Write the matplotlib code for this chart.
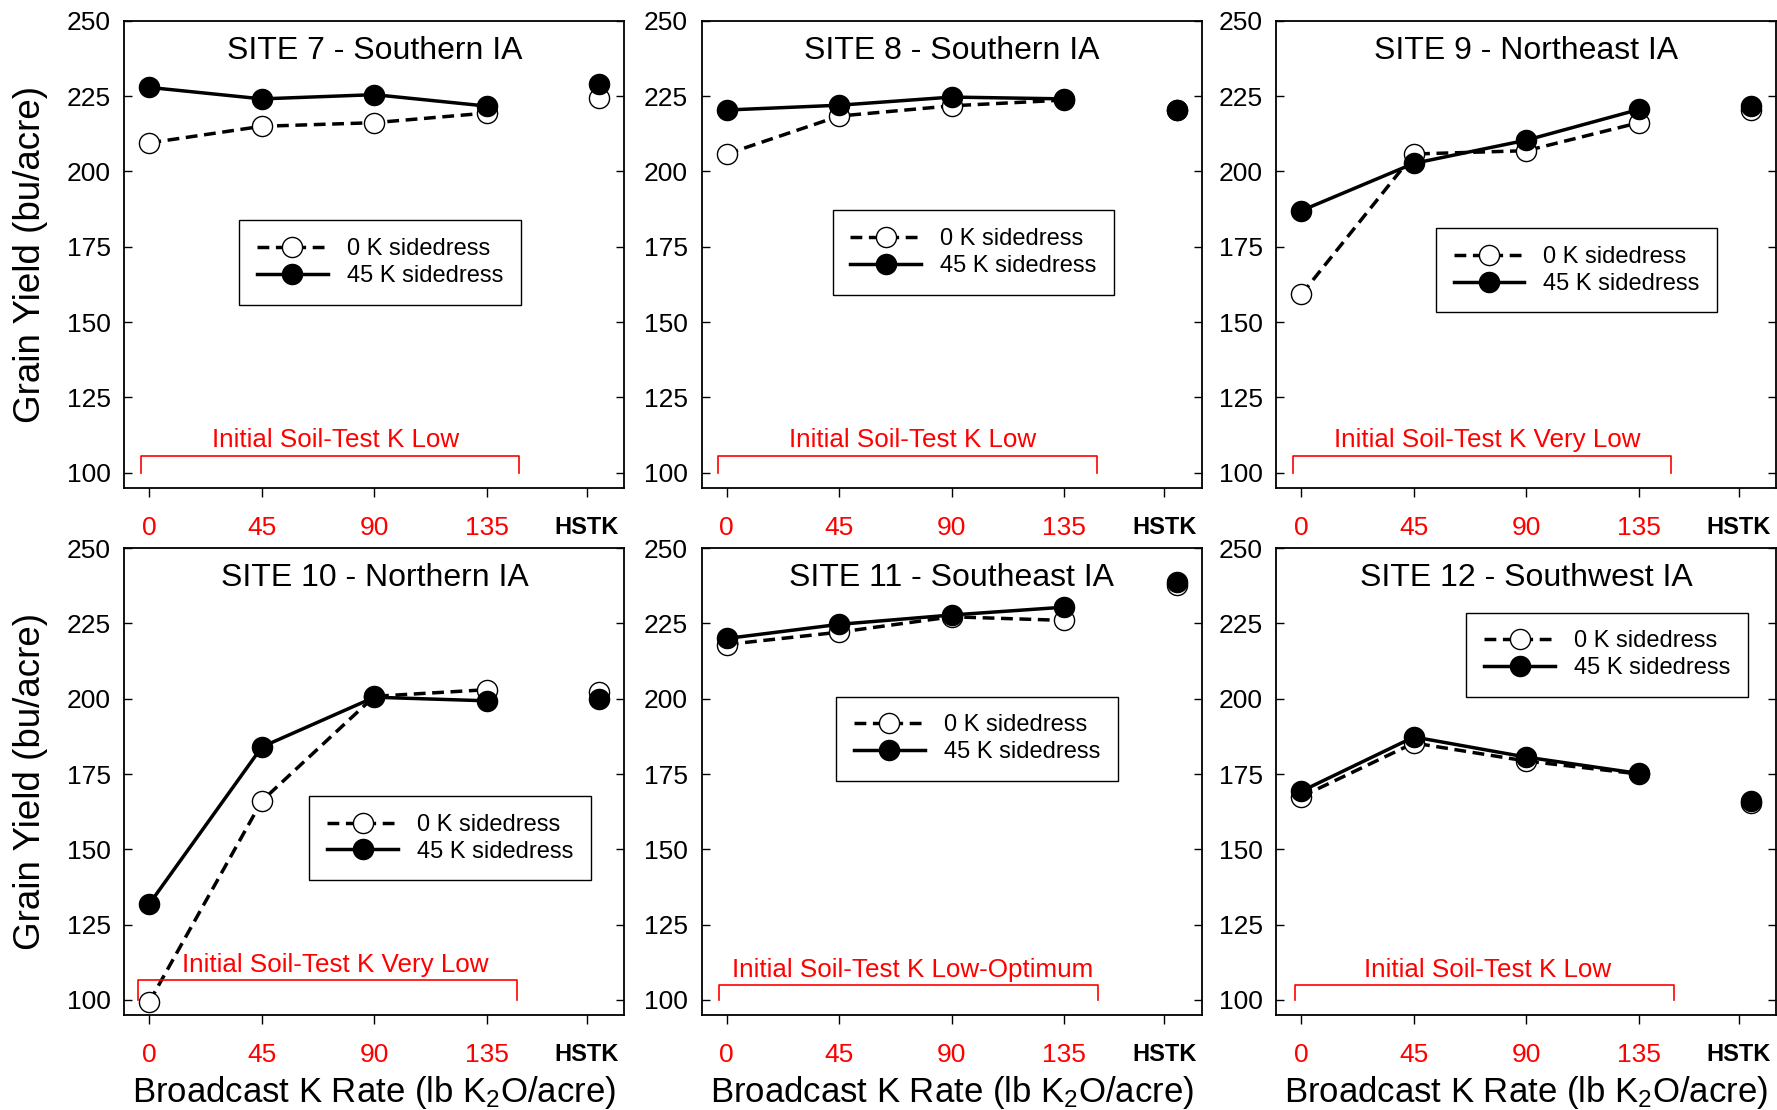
import matplotlib.pyplot as plt

plt.rcParams['font.family'] = ['Liberation Sans', 'DejaVu Sans']
plt.rcParams['mathtext.fontset'] = 'custom'
plt.rcParams['mathtext.rm'] = 'Liberation Sans'
plt.rcParams['mathtext.default'] = 'rm'

# data
sites = ["SITE 7 - Southern IA", "SITE 8 - Southern IA", "SITE 9 - Northeast IA",
         "SITE 10 - Northern IA", "SITE 11 - Southeast IA", "SITE 12 - Southwest IA"]
soil_test = ["Initial Soil-Test K Low", "Initial Soil-Test K Low",
             "Initial Soil-Test K Very Low", "Initial Soil-Test K Very Low",
             "Initial Soil-Test K Low-Optimum", "Initial Soil-Test K Low"]
k_rates = [0, 45, 90, 135]
tick_labels = ["0", "45", "90", "135", "HSTK"]

yield_0k = [
    [209.5, 215.0, 216.2, 219.4],
    [205.8, 218.4, 221.8, 223.7],
    [159.2, 205.8, 206.9, 216.2],
    [99.4, 166.1, 200.8, 203.0],
    [218.0, 222.1, 227.2, 226.0],
    [167.5, 185.3, 179.3, 175.0],
]
yield_45k = [
    [227.9, 224.1, 225.5, 221.7],
    [220.4, 222.0, 224.7, 224.1],
    [187.0, 202.7, 210.4, 220.6],
    [131.9, 184.0, 200.5, 199.3],
    [220.0, 224.7, 227.8, 230.4],
    [169.3, 187.3, 180.6, 175.2],
]
hstk_0k = [224.5, 220.4, 220.4, 202.3, 237.9, 165.5]
hstk_45k = [228.9, 220.5, 221.9, 200.0, 238.8, 165.9]

# layout
hstk_tick = 175
hstk_pos = 180
col_left = [0.070, 0.3949, 0.7183]
row_bottom = [0.5606, 0.0856]
ax_w, ax_h = 0.2814, 0.4206
legend_pos = [(0.2295, 0.5725), (0.262, 0.594), (0.319, 0.5556),
              (0.370, 0.4684), (0.269, 0.682), (0.380, 0.862)]
bracket_top = [105.5, 105.5, 105.5, 106.5, 104.8, 104.8]
bracket_x = [(-3.5, 148), (-3.5, 148), (-3.5, 148), (-4.5, 147), (-3, 148.5), (-2.5, 149)]
soil_label_y = [110.8, 110.8, 110.8, 111.7, 110.0, 109.9]

fig = plt.figure(figsize=(17.77, 11.10), dpi=100)

for i in range(6):
    r, c = divmod(i, 3)
    ax = fig.add_axes([col_left[c], row_bottom[r], ax_w, ax_h])

    l0, = ax.plot(k_rates, yield_0k[i], color='black', lw=2.5, dashes=[3.4, 1.9],
                  marker='o', ms=14.5, mfc='white', mec='black', mew=1,
                  label='0 K sidedress')
    l1, = ax.plot(k_rates, yield_45k[i], color='black', lw=2.5,
                  marker='o', ms=14.5, mfc='black', mec='black', mew=1,
                  label='45 K sidedress')
    ax.plot([hstk_pos], [hstk_0k[i]], ls='none', marker='o', ms=14.5,
            mfc='white', mec='black', mew=1)
    ax.plot([hstk_pos], [hstk_45k[i]], ls='none', marker='o', ms=14.5,
            mfc='black', mec='black', mew=1)

    # red bracket for the initial soil test class
    x0, x1 = bracket_x[i]
    ax.plot([x0, x0, x1, x1], [100, bracket_top[i], bracket_top[i], 100],
            color='red', lw=1.2)
    ax.text(74.5, soil_label_y[i], soil_test[i], color='red', fontsize=18.7,
            ha='center', va='center')

    ax.text(0.5, 0.935, sites[i], transform=ax.transAxes, ha='center',
            va='center', fontsize=23)

    ax.set_xlim(-10, 190)
    ax.set_ylim(95, 250)
    ax.set_yticks([100, 125, 150, 175, 200, 225, 250])
    ax.set_xticks(k_rates + [hstk_tick])
    ax.set_xticklabels(tick_labels)
    for j, lbl in enumerate(ax.get_xticklabels()):
        if j < 4:
            lbl.set_color('red')
            lbl.set_fontsize(19)
        else:
            lbl.set_fontweight('bold')
            lbl.set_fontsize(17)
    ax.tick_params(axis='y', direction='in', left=True, right=True,
                   length=6, width=1, labelsize=19, pad=10)
    ax.tick_params(axis='x', direction='out', length=6.5, width=1, pad=14)
    for sp in ax.spines.values():
        sp.set_linewidth(1.3)

    leg = ax.legend(handles=[l0, l1], loc='upper left',
                    bbox_to_anchor=legend_pos[i], borderaxespad=0,
                    fontsize=17, handlelength=3.0, handletextpad=0.8,
                    borderpad=0.75, labelspacing=0.2, fancybox=False,
                    framealpha=1, edgecolor='black')
    leg.get_frame().set_linewidth(1)

    if c == 0:
        fig.text(0.0172, row_bottom[r] + ax_h / 2, 'Grain Yield (bu/acre)',
                 rotation=90, ha='center', va='center', fontsize=26.5)
    if r == 1:
        fig.text(col_left[c] + ax_w / 2, 0.0075,
                 'Broadcast K Rate (lb K$_2$O/acre)',
                 ha='center', va='baseline', fontsize=25)

fig.savefig('out.png', dpi=100)
